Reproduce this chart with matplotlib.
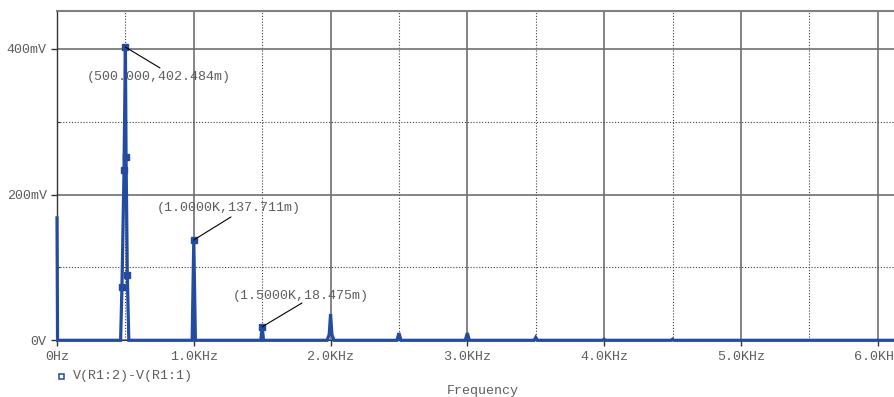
import matplotlib
matplotlib.use("Agg")
import matplotlib.pyplot as plt
from matplotlib.lines import Line2D
from matplotlib.ticker import FixedLocator

# FFT magnitude of V(R1:2)-V(R1:1): frequency in Hz, magnitude in mV
freq_hz = [0, 4, 465, 475, 490, 500, 505, 514, 525,
           988, 1000, 1012,
           1490, 1500, 1510,
           1975, 1990, 2000, 2010, 2025,
           2485, 2500, 2515,
           2985, 3000, 3015,
           3488, 3500, 3512,
           3990, 4000, 4010,
           4490, 4500, 4510,
           6400]
volt_mv = [168, 0, 0, 73.6, 233.7, 402.484, 251, 89.7, 0,
           0, 137.711, 0,
           0, 18.475, 0,
           0, 8, 36, 8, 0,
           0, 10, 0,
           0, 10, 0,
           0, 4, 0,
           0, 1.5, 0,
           0, 1.5, 0,
           0]

# samples shown with a trace marker
marked_hz = [475, 490, 500, 505, 514, 1000, 1500]

# cursor readouts
cursor_hz = [500, 1000, 1500]
cursor_mv = [402.484, 137.711, 18.475]

x_ticks = [0, 1000, 2000, 3000, 4000, 5000, 6000]
x_tick_labels = ["0Hz", "1.0KHz", "2.0KHz", "3.0KHz", "4.0KHz", "5.0KHz", "6.0KHz"]
y_ticks = [0, 200, 400]
y_tick_labels = ["0V", "200mV", "400mV"]
trace_name = "V(R1:2)-V(R1:1)"

BLUE = "#234ba2"
TXT = "#5e5e5e"
MONO = ["Liberation Mono", "DejaVu Sans Mono"]
FS = 9.6

W, H = 894, 397
fig = plt.figure(figsize=(W / 100, H / 100), dpi=100)
fig.patch.set_facecolor("white")

# plot area runs off the right edge of the page
x0, x1, y_top, y_bot = 57, 909, 11, 340.3
ax = fig.add_axes([x0 / W, 1 - y_bot / H, (x1 - x0) / W, (y_bot - y_top) / H])
ax.set_xlim(0, 6229)
ax.set_ylim(0, 452)
ax.set_axisbelow(True)

ax.xaxis.set_major_locator(FixedLocator(x_ticks))
ax.set_xticklabels(x_tick_labels)
ax.xaxis.set_minor_locator(FixedLocator([500, 1500, 2500, 3500, 4500, 5500]))
ax.yaxis.set_major_locator(FixedLocator(y_ticks))
ax.set_yticklabels(y_tick_labels)
ax.yaxis.set_minor_locator(FixedLocator([100, 300]))

ax.grid(which="major", color="#707070", lw=1.2, ls="-")
ax.grid(which="minor", color="#404040", lw=0.8, ls=(0, (1, 1.6)))

ax.tick_params(which="major", direction="out", length=4.5, width=1,
               color="#333333", labelcolor=TXT, labelsize=FS, pad=3)
ax.tick_params(axis="y", which="minor", direction="in", length=2.5,
               width=0.8, color="#333333")
ax.tick_params(axis="x", which="minor", length=0)
for lab in ax.get_xticklabels() + ax.get_yticklabels():
    lab.set_family(MONO)

ax.spines["right"].set_visible(False)
ax.spines["top"].set_color("#808080")
ax.spines["top"].set_linewidth(1.5)
ax.spines["left"].set_color("#333333")
ax.spines["left"].set_linewidth(1.0)
ax.spines["bottom"].set_color("#333333")

mark_idx = [freq_hz.index(f) for f in marked_hz]
ax.plot(freq_hz, volt_mv, color=BLUE, lw=2.3, solid_joinstyle="miter",
        marker="s", ms=4.2, markevery=mark_idx, mfc=BLUE, mec=BLUE,
        clip_on=False, zorder=3)


def readout(f, v):
    fs = f"{f:.3f}" if f < 1000 else f"{f / 1000:.4f}K"
    return f"({fs},{v:.3f}m)"


# leader-line ends and text anchors (Hz, mV)
leader_end = [(753, 373.8), (1272, 169.3), (1791, 51.2)]
text_anchor = [(219, 361.4), (731, 181.0), (1287, 60.8)]
for f, v, (ex, ey), (tx, ty) in zip(cursor_hz, cursor_mv, leader_end, text_anchor):
    ax.annotate("", xy=(f, v), xytext=(ex, ey),
                arrowprops=dict(arrowstyle="-", color="black", lw=0.8,
                                shrinkA=0, shrinkB=0), zorder=4)
    ax.text(tx, ty, readout(f, v), family=MONO, fontsize=FS, color=TXT,
            ha="left", va="center", zorder=5)

# trace legend below the plot
fig.add_artist(Line2D([61 / W], [1 - 375.5 / H], transform=fig.transFigure,
                      marker="s", ms=3.6, mfc="white", mec=BLUE, mew=1.1, ls="none"))
fig.text(73 / W, 1 - 375.5 / H, trace_name, family=MONO, fontsize=FS,
         color=TXT, ha="left", va="center")
fig.text(483 / W, 1 - 391 / H, "Frequency", family=MONO, fontsize=FS,
         color=TXT, ha="center", va="center")

fig.savefig("out.png", dpi=100, facecolor="white")
